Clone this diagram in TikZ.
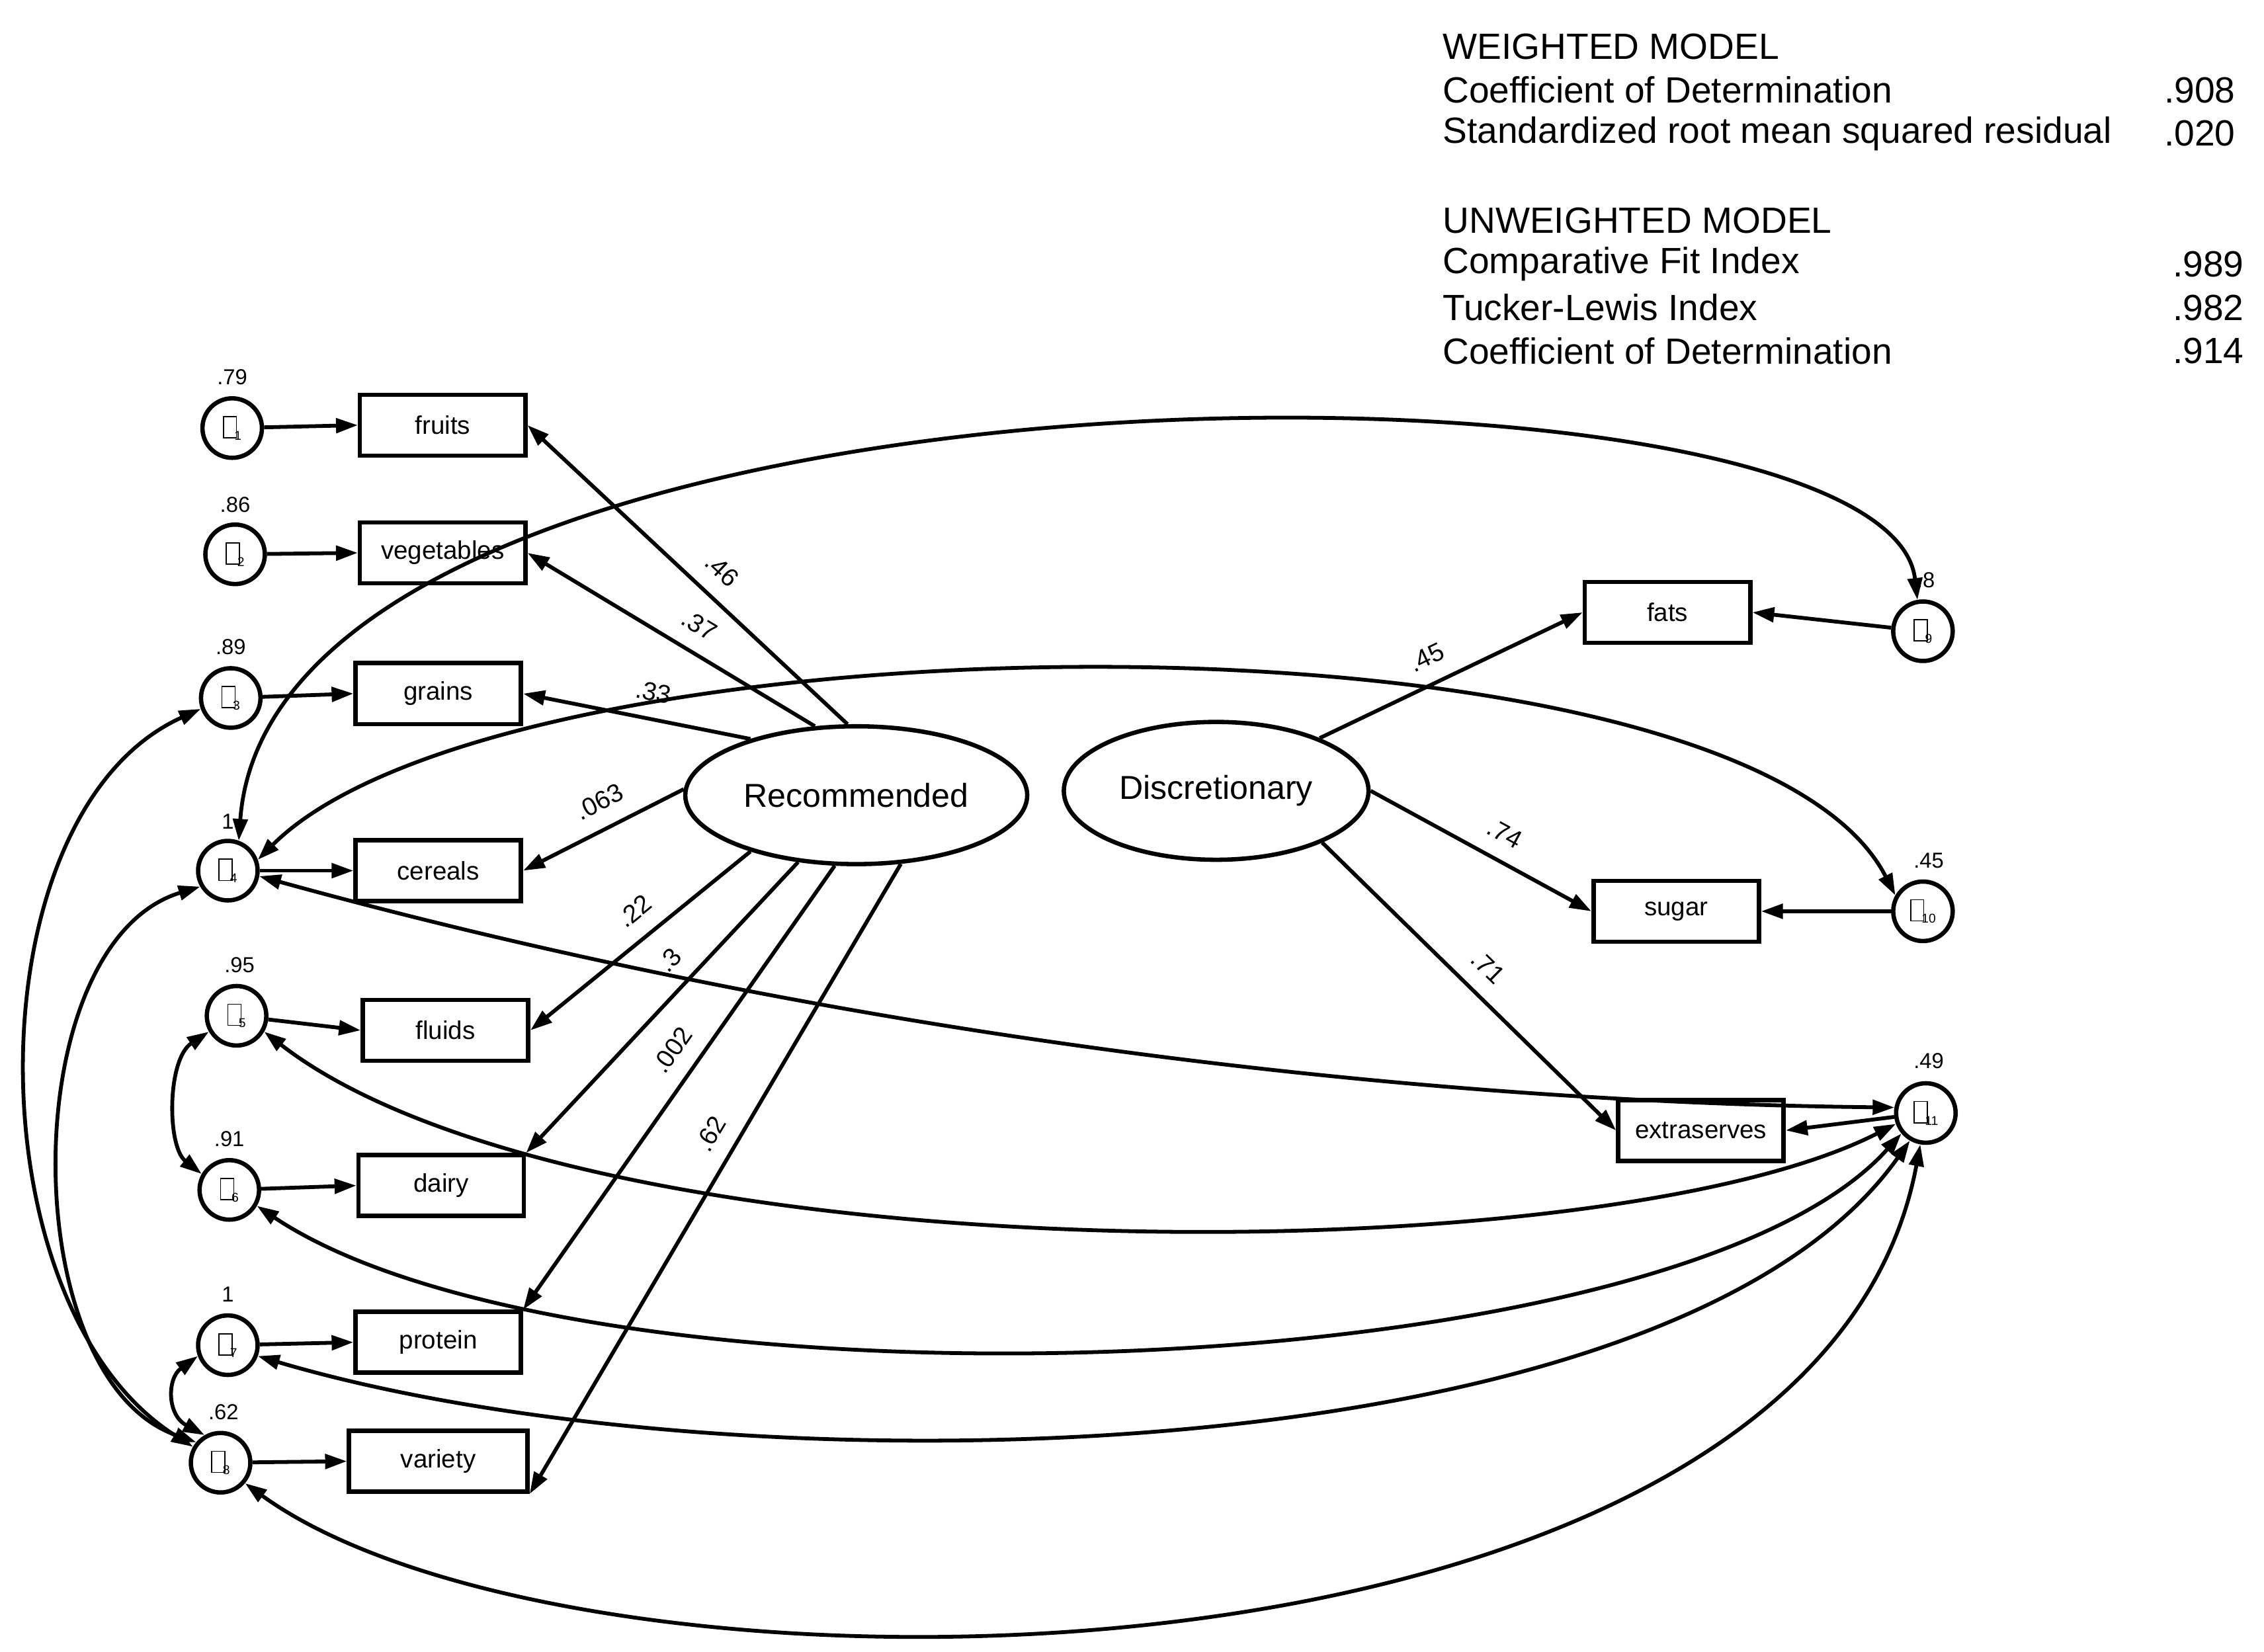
\documentclass[tikz,border=0pt]{standalone}
\usepackage{fontspec}
\setmainfont{Liberation Sans}
\usetikzlibrary{arrows.meta,shapes.geometric}
\newcommand\tofu{{\fboxsep0pt\fboxrule0.4pt\fbox{\rule{0pt}{1.5ex}\hspace{0.9ex}}}}
\newcommand\epsi[1]{\tofu\kern-0.2ex\raisebox{-0.2ex}{\fontsize{5}{5}\selectfont #1}}
\begin{document}
\begin{tikzpicture}[x=0.02cm,y=-0.02cm,
  every node/.style={font=\fontsize{10}{12}\selectfont},
  box/.style={draw,line width=1.7pt,minimum width=2.28cm,minimum height=0.84cm,inner sep=0pt},
  err/.style={draw,circle,line width=1.7pt,minimum size=0.82cm,inner sep=0pt},
  lat/.style={draw,ellipse,line width=1.7pt,minimum width=4.2cm,minimum height=1.9cm,font=\fontsize{13}{15}\selectfont},
  num/.style={font=\fontsize{8.5}{10}\selectfont},
  hd/.style={anchor=west,font=\fontsize{14.3}{17}\selectfont},
  coef/.style={sloped,above=3pt,font=\fontsize{10}{11}\selectfont},
  ar/.style={line width=1.5pt,-{Triangle[length=0.3cm,width=0.2cm]}},
  dar/.style={line width=1.5pt,{Triangle[length=0.3cm,width=0.2cm]}-{Triangle[length=0.3cm,width=0.2cm]}}]
\useasboundingbox (0,0) rectangle (1560,1138);
% header
\node[hd] (h1) at (988,32) {WEIGHTED MODEL};
\node[hd] (h2) at (988,62) {Coefficient of Determination};
\node[hd] (h3) at (988,92) {Standardized root mean squared residual};
\node[hd] (h4) at (988,152) {UNWEIGHTED MODEL};
\node[hd] (h5) at (988,182) {Comparative Fit Index};
\node[hd] (h6) at (988,212) {Tucker-Lewis Index};
\node[hd] (h7) at (988,242) {Coefficient of Determination};
\node[hd] (v2) at (1485,62) {.908};
\node[hd] (v3) at (1485,92) {.020};
\node[hd] (v5) at (1491,182) {.989};
\node[hd] (v6) at (1491,212) {.982};
\node[hd] (v7) at (1491,242) {.914};
% boxes
\node[box] (fruits) at (305,293) {fruits};
\node[box] (veg) at (305,381) {vegetables};
\node[box] (grains) at (302,478) {grains};
\node[box] (cereals) at (302,600) {cereals};
\node[box] (fluids) at (307,710) {fluids};
\node[box] (dairy) at (304,817) {dairy};
\node[box] (protein) at (302,925) {protein};
\node[box,minimum width=2.46cm] (variety) at (302,1007) {variety};
\node[box] (fats) at (1149,422) {fats};
\node[box] (sugar) at (1155,628) {sugar};
\node[box] (extra) at (1172,779) {extraserves};
% latents
\node[lat] (R) at (590,548) {Recommended};
\node[lat] (D) at (838,545) {Discretionary};
% errors
\node[err] (e1) at (160,295) {\epsi{1}};
\node[err] (e2) at (162,382) {\epsi{2}};
\node[err] (e3) at (159,481) {\epsi{3}};
\node[err] (e4) at (157,600) {\epsi{4}};
\node[err] (e5) at (163,700) {\epsi{5}};
\node[err] (e6) at (158,820) {\epsi{6}};
\node[err] (e7) at (157,927) {\epsi{7}};
\node[err] (e8) at (152,1008) {\epsi{8}};
\node[err] (e9) at (1325,435) {\epsi{9}};
\node[err] (e10) at (1325,628) {\epsi{10}};
\node[err] (e11) at (1327,767) {\epsi{11}};
% variances
\node[num] (n1) at (160,260) {.79};
\node[num] (n2) at (162,348) {.86};
\node[num] (n3) at (159,446) {.89};
\node[num] (n4) at (157,566) {1};
\node[num] (n5) at (165,665) {.95};
\node[num] (n6) at (158,785) {.91};
\node[num] (n7) at (157,892) {1};
\node[num] (n8) at (154,973) {.62};
\node[num] (n9) at (1327,400) {.8};
\node[num] (n10) at (1329,593) {.45};
\node[num] (n11) at (1329,731) {.49};
% error arrows
\foreach \e/\b in {e1/fruits,e2/veg,e3/grains,e4/cereals,e5/fluids,e6/dairy,e7/protein,e8/variety}
  \draw[ar] (\e) -- (\b.west);
\draw[ar] (e9) -- (fats.east);
\draw[ar] (e10) -- (sugar.east);
\draw[ar] (e11) -- (extra.east);
% loadings
\draw[ar] (R.97) -- node[coef,pos=0.45]{.46} (fruits.east);
\draw[ar] (R.121) -- node[coef,pos=0.45]{.37} (veg.east);
\draw[ar] (R.152) -- node[coef,pos=0.45]{.33} (grains.east);
\draw[ar] (R.178) -- node[coef,pos=0.45]{.063} (cereals.east);
\draw[ar] (R.208) -- node[coef,pos=0.45]{.22} (fluids.east);
\draw[ar] (R.229) -- node[coef,pos=0.4]{.3} (dairy.north east);
\draw[ar] (R.253) -- node[coef,pos=0.45]{.002} (protein.north east);
\draw[ar] (R.303) -- node[coef,pos=0.45]{.62} (variety.south east);
\draw[ar] (D.27) -- node[coef,pos=0.45]{.45} (fats.west);
\draw[ar] (D.0) -- node[coef,pos=0.55]{.74} (sugar.west);
\draw[ar] (D.-26) -- node[coef,pos=0.5]{.71} (extra.west);
% covariances
\draw[dar] (e4.70) .. controls (190,230) and (1300,230) .. (e9.100);
\draw[dar] (e4.20) .. controls (350,420) and (1200,410) .. (e10.150);
\draw[dar] (e4.-10) .. controls (600,720) and (1000,760) .. (e11.170);
\draw[dar] (e5.-30) .. controls (400,880) and (1100,880) .. (e11.200);
\draw[dar] (e6.-30) .. controls (400,980) and (1150,960) .. (e11.220);
\draw[dar] (e7.-20) .. controls (500,1030) and (1150,1020) .. (e11.240);
\draw[dar] (e8.-40) .. controls (400,1190) and (1250,1180) .. (e11.260);
\draw[dar] (e3.200) .. controls (-20,560) and (-20,900) .. (e8.150);
\draw[dar] (e4.210) .. controls (10,650) and (10,950) .. (e8.140);
\draw[dar] (e5.210) .. controls (115,730) and (115,790) .. (e6.150);
\draw[dar] (e7.200) .. controls (115,950) and (115,975) .. (e8.120);
\end{tikzpicture}
\end{document}
